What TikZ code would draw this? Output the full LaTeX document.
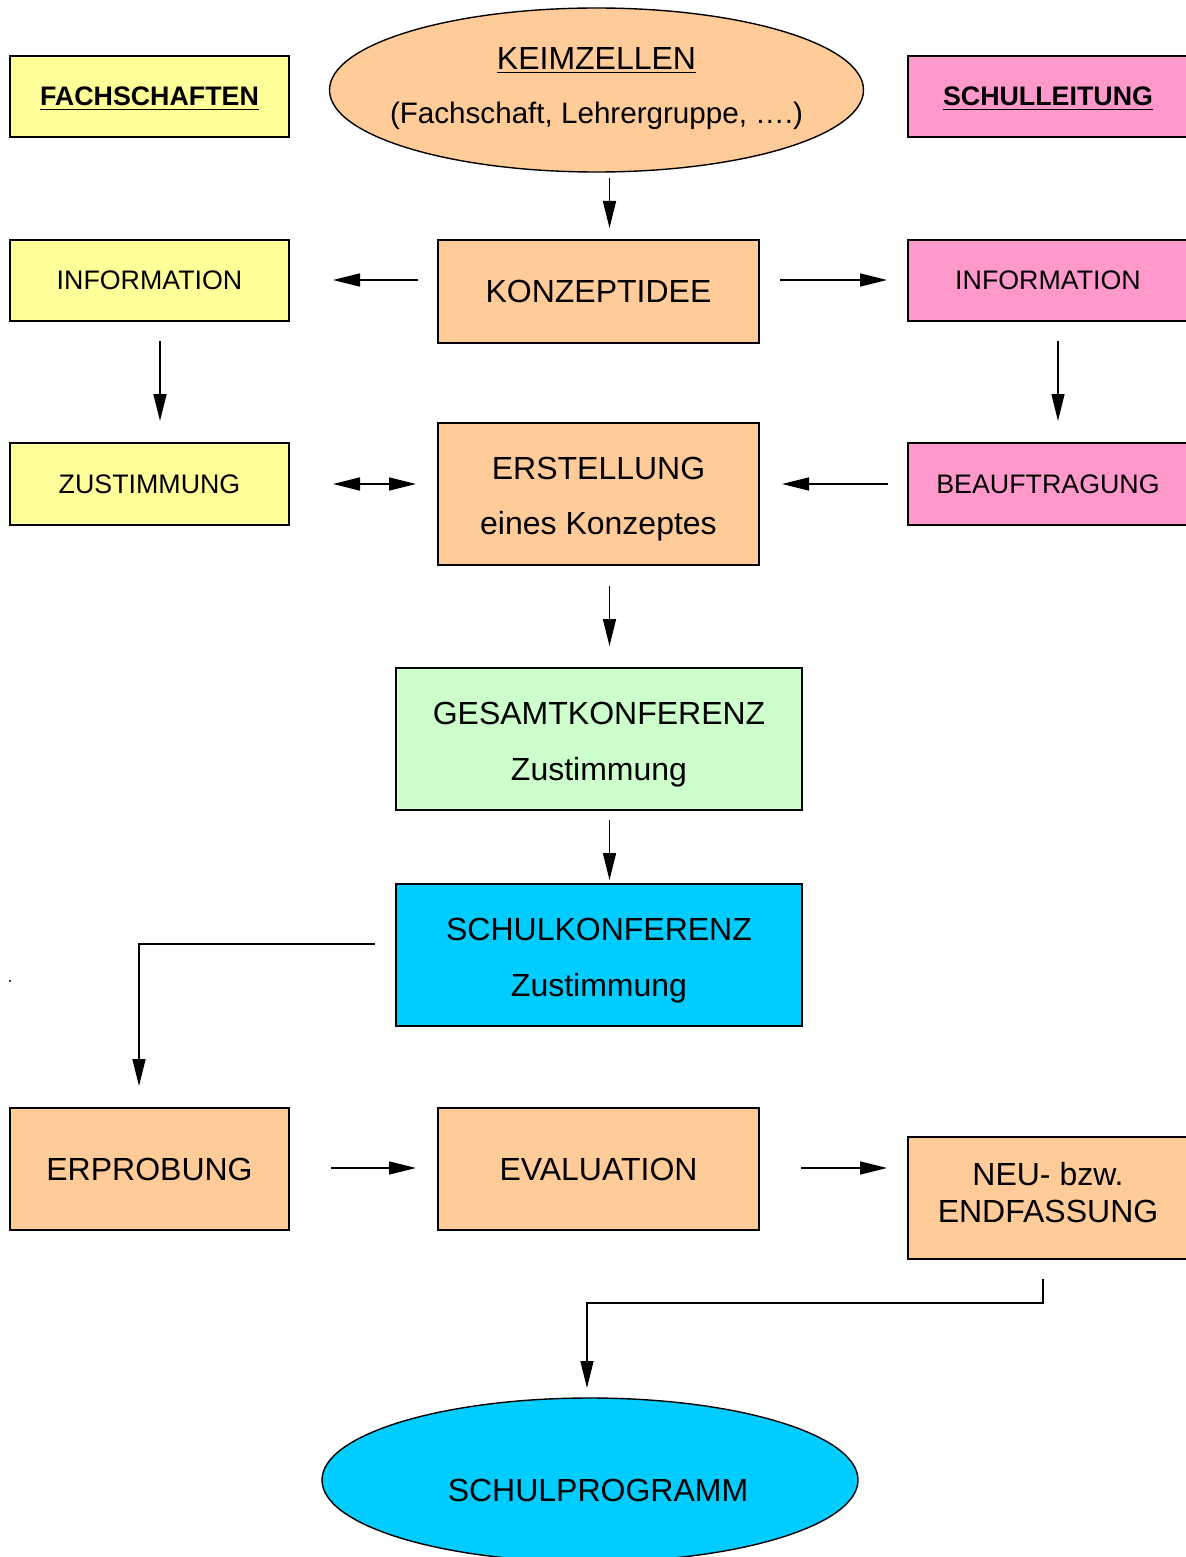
\documentclass[tikz,border=0pt]{standalone}
\usepackage{fontspec}
\setmainfont{Liberation Sans}
\usetikzlibrary{arrows.meta,shapes.geometric}
\definecolor{cyel}{HTML}{FFFF99}
\definecolor{corange}{HTML}{FFCC99}
\definecolor{cpink}{HTML}{FF99CC}
\definecolor{cgreen}{HTML}{CCFFCC}
\definecolor{ccyan}{HTML}{00CCFF}
\newcommand{\upstrut}{\rule{0pt}{16.5pt}}
\begin{document}
\begin{tikzpicture}[x=0.5pt,y=-0.5pt,
  boxbase/.style={draw=black, line width=0.7pt, inner sep=0pt, align=center},
  sidebox/.style={boxbase, minimum width=139.5pt, minimum height=40.5pt, font=\fontsize{13.4}{16}\selectfont},
  midbox/.style={boxbase, minimum width=160.5pt, font=\fontsize{16}{27.5}\selectfont},
  widebox/.style={boxbase, minimum width=203pt, minimum height=71pt, font=\fontsize{16}{28}\selectfont},
  bigtext/.style={font=\fontsize{16}{27}\selectfont, align=center, inner sep=0pt},
  oval/.style={ellipse, draw=black, line width=0.7pt, inner sep=0pt, minimum width=267pt, minimum height=82pt},
  conn/.style={line width=0.7pt, -{Triangle[length=13.5pt,width=6.5pt]}},
  dconn/.style={line width=0.7pt, {Triangle[length=13.5pt,width=6.5pt]}-{Triangle[length=13.5pt,width=6.5pt]}}
]
\useasboundingbox (0,0) rectangle (1186,1557);

% top row
\node[sidebox, fill=cyel, text depth=0pt] (fach) at (149.5,96.5) {\textbf{\underline{FACHSCHAFTEN}}};
\node[oval, fill=corange] (keim) at (596.5,90) {};
\node[bigtext] (keimtext) at (596.5,89) {\underline{KEIMZELLEN}\\{\fontsize{14.8}{27}\selectfont(Fachschaft, Lehrergruppe, \dots.)}};
\node[sidebox, fill=cpink, minimum width=140pt, text depth=0pt] (sl) at (1048,96.5) {\textbf{\underline{SCHULLEITUNG}}};

% second row
\node[sidebox, fill=cyel] (infoL) at (149.5,280.5) {INFORMATION};
\node[midbox, fill=corange, minimum height=51.5pt] (konz) at (598.5,291.5) {KONZEPTIDEE};
\node[sidebox, fill=cpink, minimum width=140pt] (infoR) at (1048,280.5) {INFORMATION};

% third row
\node[sidebox, fill=cyel, minimum height=41pt] (zust) at (149.5,484) {ZUSTIMMUNG};
\node[midbox, fill=corange, minimum height=71pt] (erst) at (598.5,494) {\upstrut ERSTELLUNG\\eines Konzeptes};
\node[sidebox, fill=cpink, minimum width=140pt, minimum height=41pt] (beauf) at (1048,484) {BEAUFTRAGUNG};

% conferences
\node[widebox, fill=cgreen] (gesamt) at (599,739) {\upstrut GESAMTKONFERENZ\\Zustimmung};
\node[widebox, fill=ccyan] (schulk) at (599,955) {\upstrut SCHULKONFERENZ\\Zustimmung};

% bottom row
\node[sidebox, fill=corange, minimum height=61pt, font=\fontsize{16}{20}\selectfont] (erprob) at (149.5,1169) {ERPROBUNG};
\node[midbox, fill=corange, minimum height=61pt] (eval) at (598.5,1169) {EVALUATION};
\node[sidebox, fill=corange, minimum width=140pt, minimum height=61pt, font=\fontsize{16}{18.5}\selectfont] (neu) at (1048,1198) {NEU- bzw.\\ENDFASSUNG\rule[-6pt]{0pt}{0pt}};

\node[oval, fill=ccyan, minimum width=268pt] (prog) at (590,1480) {};
\node[bigtext] (progtext) at (598,1490) {SCHULPROGRAMM};

% tiny dot
\fill (10,981) circle[radius=0.6pt];

% connector end points
\coordinate (k1) at (609.5,178);  \coordinate (k2) at (609.5,228);
\coordinate (l1) at (418,280);    \coordinate (l2) at (333,280);
\coordinate (r1) at (780,280);    \coordinate (r2) at (887,280);
\coordinate (il1) at (160,341);   \coordinate (il2) at (160,421);
\coordinate (ir1) at (1058,341);  \coordinate (ir2) at (1058,421);
\coordinate (d1) at (333,484);    \coordinate (d2) at (416,484);
\coordinate (b1) at (888,484);    \coordinate (b2) at (782,484);
\coordinate (e1) at (609.5,586);  \coordinate (e2) at (609.5,646);
\coordinate (g1) at (609.5,820);  \coordinate (g2) at (609.5,880);
\coordinate (s1) at (375,944);    \coordinate (s2) at (139,1086);
\coordinate (p1) at (331,1168);   \coordinate (p2) at (416,1168);
\coordinate (v1) at (801,1168);   \coordinate (v2) at (887,1168);
\coordinate (n1) at (1043,1279);  \coordinate (n2) at (587,1388);

\draw[conn] (k1) -- (k2);
\draw[conn] (l1) -- (l2);
\draw[conn] (r1) -- (r2);
\draw[conn] (il1) -- (il2);
\draw[conn] (ir1) -- (ir2);
\draw[dconn] (d1) -- (d2);
\draw[conn] (b1) -- (b2);
\draw[conn] (e1) -- (e2);
\draw[conn] (g1) -- (g2);
\draw[conn] (s1) -| (s2);
\draw[conn] (p1) -- (p2);
\draw[conn] (v1) -- (v2);
\draw[conn] (n1) |- (587,1303) -- (n2);
\end{tikzpicture}
\end{document}
